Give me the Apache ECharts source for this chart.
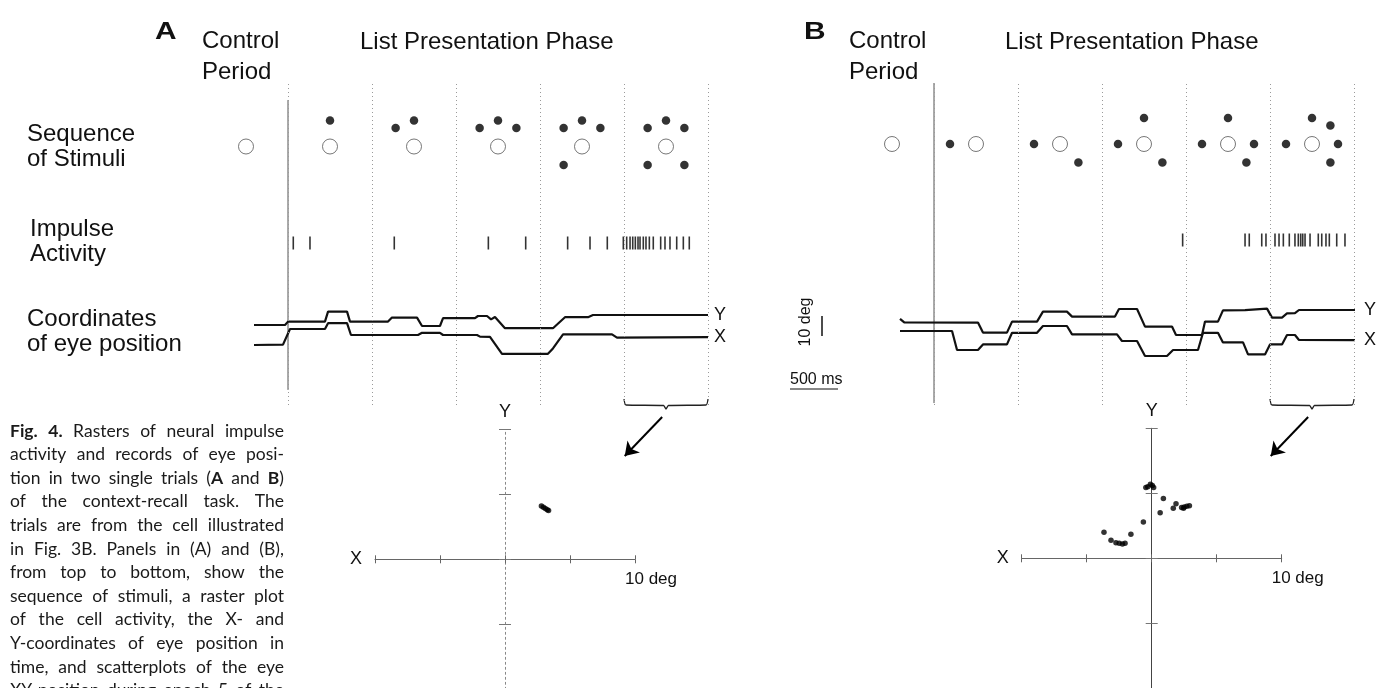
<!DOCTYPE html>
<html><head><meta charset="utf-8">
<script src="https://cdn.jsdelivr.net/npm/echarts@6/dist/echarts.min.js"></script>
<style>html,body{margin:0;padding:0;background:#fff}#c{width:1390px;height:688px}</style>
</head><body><div id="c"></div>
<script>
// ================= DATA =================
const epochMs = 875;                                   // one stimulus epoch (ms)
const epochBounds = [0, 875, 1750, 2625, 3500, 4375];  // epoch limits (ms from list onset)
const stimPeriods = [-1, 0, 1, 2, 3, 4];               // control period + 5 list epochs
// direction (deg, 0 = right, 90 = up) of each target added in successive epochs
const stimAnglesA = [90, 135, 45, 225, 315];
const stimAnglesB = [180, 315, 90, 0, 45];
// spike times (ms)
const spikesA = [55, 229, 1107, 2087, 2476, 2913, 3146, 3326, 3493, 3528, 3563, 3591, 3618, 3646, 3667, 3701, 3729, 3764, 3805, 3882, 3927, 3979, 4049, 4118, 4180];
const spikesB = [2590, 3240, 3284, 3414, 3458, 3552, 3594, 3639, 3701, 3760, 3795, 3820, 3841, 3865, 3917, 4003, 4039, 4083, 4118, 4195, 4281];
// eye position traces [ms, deg] (display offsets included)
const eyeYA = [[-354,2.5],[-31,2.5],[0,4.2],[385,4.2],[417,9.2],[615,9.2],[646,4.2],[1042,4.2],[1083,6.2],[1344,6.2],[1396,2],[1583,2],[1615,5.9],[1948,5.9],[1979,7],[2073,7],[2115,5.3],[2156,6.5],[2260,0.9],[2760,0.9],[2885,6.4],[3125,6.4],[3177,7.5],[4375,7.5]];
const eyeXA = [[-354,-7.5],[-52,-7.3],[21,0.5],[385,0.5],[417,3.4],[615,3.4],[656,-2.5],[1354,-2.5],[1396,-1.4],[1583,-1.4],[1615,-2.5],[1969,-2.5],[2000,-3.3],[2104,-3.4],[2229,-11.9],[2708,-11.9],[2760,-9.2],[2865,-2.2],[3375,-2.2],[3427,-3.8],[4375,-3.6]];
const eyeYB = [[-354,5.6],[-310,3.8],[458,3.7],[510,-1.3],[760,-1.3],[813,4.2],[1073,4.2],[1135,9.2],[1385,9.2],[1438,6.7],[1885,6.7],[1927,10.5],[2115,10.5],[2198,1.7],[2479,1.7],[2521,-2.5],[2792,-2.5],[2823,4.2],[2958,4.2],[3010,9.8],[3240,9.9],[3469,10.7],[3521,6.2],[3625,6.2],[3677,8.3],[3760,8.4],[3802,10],[4385,10]];
const eyeXB = [[-354,-0.5],[188,-0.5],[240,-10],[458,-10],[510,-7.2],[760,-7.2],[813,-1.4],[1073,-1.4],[1135,2],[1385,2],[1438,-2.2],[1906,-2.2],[1958,-5.5],[2115,-5.5],[2198,-13],[2427,-13],[2490,-10],[2750,-10],[2802,-1.4],[2958,-1.4],[3010,-6.2],[3219,-6.2],[3271,-12.2],[3448,-12.2],[3500,-7.2],[3625,-7.2],[3677,-2.5],[3760,-2.5],[3802,-5],[4385,-5.1]];
// XY eye position during epoch 5 (deg)
const scatterA = [[2.8,4.1],[2.95,4.0],[3.1,3.9],[3.25,3.82],[3.35,3.75]];
const scatterB = [[-0.3,5.5],[-0.1,5.7],[0.05,5.6],[-0.45,5.45],[0.15,5.45],[0.9,4.6],[0.65,3.5],[1.87,4.2],[1.66,3.85],[2.3,3.9],[2.5,3.95],[2.7,4.0],[2.9,4.05],[2.45,3.85],[-0.64,2.8],[-1.6,1.85],[-3.67,2.0],[-3.13,1.38],[-2.75,1.2],[-2.5,1.15],[-2.25,1.1],[-2.05,1.15]];
const scatterRange = [-10, 10];
const scatterStep = 5;
const captionLines = [
  "**Fig. 4.** Rasters of neural impulse",
  "activity and records of eye posi-",
  "tion in two single trials (**A** and **B**)",
  "of the context-recall task. The",
  "trials are from the cell illustrated",
  "in Fig. 3B. Panels in (A) and (B),",
  "from top to bottom, show the",
  "sequence of stimuli, a raster plot",
  "of the cell activity, the X- and",
  "Y-coordinates of eye position in",
  "time, and scatterplots of the eye",
  "XY-position during epoch 5 of the"
];

// ================= LAYOUT =================
const SANS = "'Liberation Sans', Arial, sans-serif";
const CAP = "Lato, 'Open Sans', sans-serif";
const PX_PER_MS = 84 / epochMs;
const T0 = -450, T1 = 4450;
const INK = '#111';

const grid = [], xAxis = [], yAxis = [], series = [];
// returns the axis index pair of the new grid
function addGrid(g, xa, ya) {
  const gi = grid.length;
  grid.push(Object.assign({ outerBoundsMode: 'none', containLabel: false }, g));
  const xi = xAxis.length, yi = yAxis.length;
  xAxis.push(Object.assign({ gridIndex: gi }, xa));
  yAxis.push(Object.assign({ gridIndex: gi }, ya));
  return { gi, xi, yi };
}
function timeGrid(bx, top, height, ymin, ymax, inverse) {
  return addGrid({ left: bx + T0 * PX_PER_MS, top, width: (T1 - T0) * PX_PER_MS, height },
    { type: 'value', min: T0, max: T1, show: false },
    { type: 'value', min: ymin, max: ymax, show: false, inverse: !!inverse });
}
const on = g => ({ xAxisIndex: g.xi, yAxisIndex: g.yi });

function buildPanel(p) {
  // vertical epoch lines
  const gl = timeGrid(p.bx, 83, 322, 0, 1);
  series.push(Object.assign(on(gl), {
    type: 'line', silent: true, symbol: 'none',
    data: [[0, p.solid[0]], [0, p.solid[1]]],
    lineStyle: { color: '#555', width: 1 },
    markLine: { symbol: 'none', silent: true, label: { show: false },
      lineStyle: { type: [1, 3], color: '#9a9a9a', width: 1 },
      data: epochBounds.map(t => ({ xAxis: t })) }
  }));
  // stimulus sequence (epoch units)
  const periodPx = epochMs * PX_PER_MS;
  const gs = addGrid({ left: p.bx - periodPx, top: p.stimCy - periodPx / 2, width: periodPx * stimPeriods.length, height: periodPx },
    { type: 'value', min: -1, max: stimPeriods.length - 1, show: false },
    { type: 'value', min: -0.5, max: 0.5, show: false });
  const R = 26 / periodPx;
  const dots = [];
  for (let e = 1; e < stimPeriods.length; e++) {
    const k = stimPeriods[e];
    for (let j = 0; j < e; j++) {
      const a = p.angles[j] * Math.PI / 180;
      dots.push([k + 0.5 + R * Math.cos(a), R * Math.sin(a)]);
    }
  }
  series.push(Object.assign(on(gs), { type: 'scatter', silent: true,
    data: stimPeriods.map(k => [k + 0.5, 0]), symbol: 'circle', symbolSize: 15,
    itemStyle: { color: '#fff', borderColor: '#555', borderWidth: 1 } }));
  series.push(Object.assign(on(gs), { type: 'scatter', silent: true,
    data: dots, symbol: 'circle', symbolSize: 8.5, itemStyle: { color: '#000' } }));
  // raster
  const gr = timeGrid(p.bx, p.rasterTop, 14, 0, 1);
  series.push(Object.assign(on(gr), { type: 'scatter', silent: true,
    data: p.spikes.map(t => [t, 0.5]), symbol: 'rect', symbolSize: [1.6, 13],
    itemStyle: { color: '#000' } }));
  // eye traces
  const gt = timeGrid(p.bx, 300, 60, -15, 15);
  [['Y', p.eyeY], ['X', p.eyeX]].forEach(([nm, d]) => {
    series.push(Object.assign(on(gt), { type: 'line', name: nm, silent: true, symbol: 'none',
      data: d, lineStyle: { color: INK, width: 2.2 },
      endLabel: { show: true, formatter: nm, distance: p.endGap, fontSize: 18, color: INK, fontFamily: SANS } }));
  });
  // brace + arrow under last epoch
  const ga = timeGrid(p.bx, 396, 64, 0, 64, true);
  const t0 = epochBounds[epochBounds.length - 2], t1 = epochBounds[epochBounds.length - 1], tm = (t0 + t1) / 2;
  series.push(Object.assign(on(ga), { type: 'line', silent: true, symbol: 'none', smooth: 0.2,
    data: [[t0, 3], [t0 + 20, 9], [tm - 25, 9.5], [tm, 13], [tm + 25, 9.5], [t1 - 20, 9], [t1, 3]],
    lineStyle: { color: '#222', width: 1.3 } }));
  series.push(Object.assign(on(ga), { type: 'lines', coordinateSystem: 'cartesian2d', silent: true,
    symbol: ['none', 'arrow'], symbolSize: 13,
    lineStyle: { color: '#000', width: 2, opacity: 1 },
    data: [{ coords: [[tm - 40, 21], [tm - 430, 60]] }] }));
  // XY scatter
  const half = 130;
  const gx = addGrid({ left: p.sx0 - half, top: p.sy0 - half, width: 2 * half, height: 2 * half },
    { type: 'value', min: scatterRange[0], max: scatterRange[1], interval: scatterStep, position: 'bottom',
      axisLine: { onZero: true, lineStyle: { color: '#666', width: 1 } },
      axisTick: { show: true, length: 4, lineStyle: { color: '#666' } },
      axisLabel: { show: false }, splitLine: { show: false },
      name: 'X', nameLocation: 'start', nameGap: 13, nameTextStyle: { fontSize: 18, color: INK, fontFamily: SANS } },
    { type: 'value', min: scatterRange[0], max: scatterRange[1], interval: scatterStep, position: 'left',
      axisLine: { onZero: true, lineStyle: { color: p.yAxisColor, width: 1, type: p.yAxisType } },
      axisTick: { show: true, length: 6, lineStyle: { color: '#777' } },
      axisLabel: { show: false }, splitLine: { show: false },
      name: 'Y', nameLocation: 'end', nameGap: 8, nameTextStyle: { fontSize: 18, color: INK, fontFamily: SANS } });
  xAxis[gx.xi].axisLine.onZeroAxisIndex = gx.yi;
  yAxis[gx.yi].axisLine.onZeroAxisIndex = gx.xi;
  xAxis.push({ gridIndex: gx.gi, type: 'value', min: scatterRange[0], max: scatterRange[1], interval: scatterStep, position: 'top',
    axisLine: { show: false, onZero: true, onZeroAxisIndex: gx.yi },
    axisTick: { show: true, length: 4, lineStyle: { color: '#666' } }, axisLabel: { show: false }, splitLine: { show: false } });
  yAxis.push({ gridIndex: gx.gi, type: 'value', min: scatterRange[0], max: scatterRange[1], interval: scatterStep, position: 'right',
    axisLine: { show: false, onZero: true, onZeroAxisIndex: gx.xi },
    axisTick: { show: true, length: 6, lineStyle: { color: '#777' } }, axisLabel: { show: false }, splitLine: { show: false } });
  series.push(Object.assign(on(gx), { type: 'scatter', silent: true,
    data: p.scatter, symbolSize: 5.5, itemStyle: { color: '#000' } }));
  return gx;
}

const axA = buildPanel({ bx: 288, stimCy: 146.5, rasterTop: 236, solid: [0.947, 0.047], angles: stimAnglesA,
  spikes: spikesA, eyeY: eyeYA, eyeX: eyeXA, endGap: 6, sx0: 505, sy0: 559.3, scatter: scatterA,
  yAxisColor: '#888', yAxisType: [2, 3] });
const axB = buildPanel({ bx: 934, stimCy: 144, rasterTop: 233, solid: [1.0, 0.006], angles: stimAnglesB,
  spikes: spikesB, eyeY: eyeYB, eyeX: eyeXB, endGap: 9, sx0: 1151.7, sy0: 558.3, scatter: scatterB,
  yAxisColor: '#444', yAxisType: 'solid' });

// ================= TEXT =================
function txt(x, baseline, text, size, extra) {
  extra = extra || {};
  return { type: 'text', x: x, y: baseline - 0.35 * size, silent: true,
    scaleX: extra.scaleX || 1,
    style: { text, font: `${extra.weight || 'normal'} ${size}px ${extra.family || SANS}`, fill: extra.fill || INK,
      textAlign: extra.align || 'left', textVerticalAlign: 'middle' } };
}
const graphic = [];
[[155, 202, 'A', 360], [804, 849, 'B', 1005]].forEach(([lx, cx, L, lx2]) => {
  graphic.push(txt(lx, 41, L, 23, { weight: 'bold', scaleX: 1.3 }));
  graphic.push(txt(cx, 50, 'Control', 24));
  graphic.push(txt(cx, 81, 'Period', 24));
  graphic.push(txt(lx2, 51, 'List Presentation Phase', 24));
});
[['Sequence', 143], ['of Stimuli', 168], ['Impulse', 238], ['Activity', 263], ['Coordinates', 328], ['of eye position', 353]]
  .forEach(([t, b]) => graphic.push(txt(t === 'Impulse' || t === 'Activity' ? 30 : 27, b, t, 24)));
// scale bars
graphic.push({ type: 'text', x: 806, y: 322, rotation: Math.PI / 2, silent: true,
  style: { text: '10 deg', font: `16px ${SANS}`, fill: INK, textAlign: 'center', textVerticalAlign: 'middle' } });
graphic.push({ type: 'line', silent: true, shape: { x1: 822, y1: 316, x2: 822, y2: 316 + 10 * 2 }, style: { stroke: INK, lineWidth: 1.5 } });
graphic.push(txt(790, 385, '500 ms', 16));
graphic.push({ type: 'line', silent: true, shape: { x1: 790, y1: 389, x2: 790 + 500 * PX_PER_MS, y2: 389 }, style: { stroke: INK, lineWidth: 1 } });

// caption (justified)
(function () {
  const L = 10, Rr = 284, size = 17.5, lh = 23.6, base0 = 437;
  const ctx = document.createElement('canvas').getContext('2d');
  const fontOf = b => `${b ? 'bold ' : ''}${size}px ${CAP}`;
  const measure = (t, b) => { ctx.font = fontOf(b); return ctx.measureText(t).width; };
  captionLines.forEach((s, li) => {
    const words = []; let bold = false, cur = [], seg = '';
    const flush = () => { if (seg) { cur.push({ t: seg, b: bold }); seg = ''; } };
    for (let i = 0; i < s.length; i++) {
      if (s[i] === '*' && s[i + 1] === '*') { flush(); bold = !bold; i++; continue; }
      if (s[i] === ' ') { flush(); if (cur.length) words.push(cur); cur = []; continue; }
      seg += s[i];
    }
    flush(); if (cur.length) words.push(cur);
    const ws = words.map(w => w.reduce((a, sg) => a + measure(sg.t, sg.b), 0));
    const total = ws.reduce((a, b) => a + b, 0);
    const gap = words.length > 1 ? (Rr - L - total) / (words.length - 1) : 0;
    let x = L;
    const y = base0 + li * lh - 0.35 * size;
    words.forEach((w, wi) => {
      let xx = x;
      w.forEach(sg => {
        graphic.push({ type: 'text', x: xx, y, silent: true,
          style: { text: sg.t, font: fontOf(sg.b), fill: '#1a1a1a', textAlign: 'left', textVerticalAlign: 'middle' } });
        xx += measure(sg.t, sg.b);
      });
      x += ws[wi] + gap;
    });
  });
})();

const chart = echarts.init(document.getElementById('c'), null, { renderer: 'canvas' });
chart.setOption({ animation: false, backgroundColor: '#fff', grid, xAxis, yAxis, series, graphic });
// "10 deg" labels at the +10 end of each X axis
const extra = [axA, axB].map(a => {
  const pt = chart.convertToPixel({ xAxisIndex: a.xi, yAxisIndex: a.yi }, [scatterRange[1], 0]);
  return txt(pt[0] - 10, pt[1] + 26, '10 deg', 17);
});
chart.setOption({ graphic: graphic.concat(extra) });
</script></body></html>
